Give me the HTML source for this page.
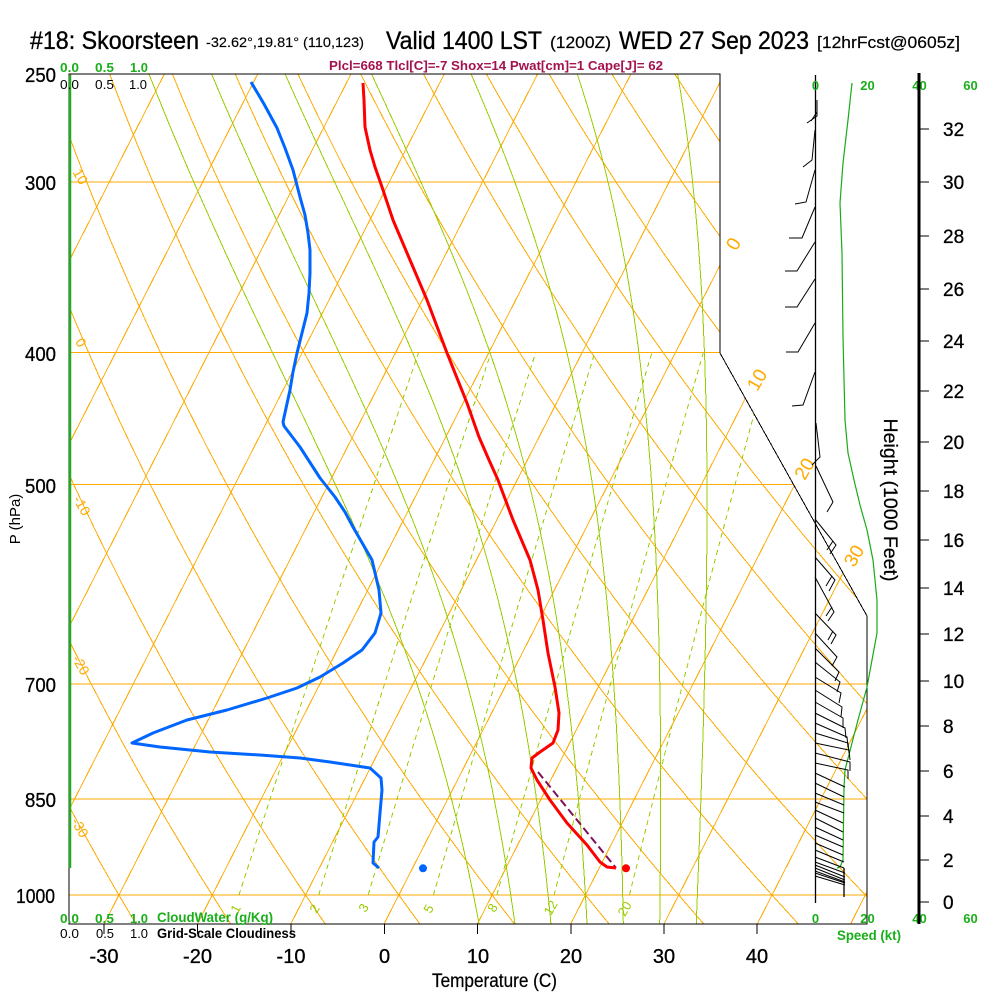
<!DOCTYPE html>
<html>
<head>
<meta charset="utf-8">
<style>
html,body{margin:0;padding:0;background:#fff;}
svg{display:block;}
text{font-family:"Liberation Sans",Arial,sans-serif;}
</style>
</head>
<body>
<svg id="s" width="1000" height="1000" viewBox="0 0 1000 1000" xmlns="http://www.w3.org/2000/svg">
<rect x="0" y="0" width="1000" height="1000" fill="#fff"/>
<defs>
<clipPath id="c"><polygon points="69,74 720,74 720,353 867,616 867,924 69,924"/></clipPath>
</defs>

<!-- grid -->
<g clip-path="url(#c)" shape-rendering="crispEdges">
  <g id="gOrange" fill="none" stroke="#ffaa00" stroke-width="1"></g>
  <g fill="none" stroke="#ffaa00" stroke-width="1">
    <line x1="69" y1="182" x2="870" y2="182"/>
    <line x1="69" y1="352.5" x2="870" y2="352.5"/>
    <line x1="69" y1="484.5" x2="870" y2="484.5"/>
    <line x1="69" y1="684" x2="870" y2="684"/>
    <line x1="69" y1="799" x2="870" y2="799"/>
    <line x1="69" y1="895" x2="870" y2="895"/>
  </g>
  <g id="gMoist" fill="none" stroke="#99cc00" stroke-width="1"></g>
  <g id="gMix" fill="none" stroke="#99cc00" stroke-width="1" stroke-dasharray="5,4"></g>
</g>

<!-- frame -->
<polygon points="69,74 720,74 720,353 867,616 867,924 69,924" fill="none" stroke="#000" stroke-width="1" shape-rendering="crispEdges"/>
<!-- cloud water axis green line -->
<line x1="70" y1="75" x2="70" y2="868" stroke="#22aa22" stroke-width="2.5"/>

<!-- bottom ticks -->
<g stroke="#000" stroke-width="1" shape-rendering="crispEdges">
  <line x1="104" y1="924" x2="104" y2="934"/>
  <line x1="197.5" y1="924" x2="197.5" y2="934"/>
  <line x1="291" y1="924" x2="291" y2="934"/>
  <line x1="384.5" y1="924" x2="384.5" y2="934"/>
  <line x1="477.5" y1="924" x2="477.5" y2="934"/>
  <line x1="571" y1="924" x2="571" y2="934"/>
  <line x1="664" y1="924" x2="664" y2="934"/>
  <line x1="757" y1="924" x2="757" y2="934"/>
</g>

<!-- title -->
<g fill="#000" stroke="#000" stroke-width="0.35">
<text x="30" y="49" font-size="25" textLength="169" lengthAdjust="spacingAndGlyphs">#18: Skoorsteen</text>
<text x="206" y="47" font-size="14" stroke-width="0.15" textLength="158" lengthAdjust="spacingAndGlyphs">-32.62°,19.81° (110,123)</text>
<text x="386" y="49" font-size="25" textLength="156" lengthAdjust="spacingAndGlyphs">Valid 1400 LST</text>
<text x="550" y="48" font-size="17" stroke-width="0.2" textLength="61" lengthAdjust="spacingAndGlyphs">(1200Z)</text>
<text x="619" y="49" font-size="25" textLength="190" lengthAdjust="spacingAndGlyphs">WED 27 Sep 2023</text>
<text x="817" y="48" font-size="17" stroke-width="0.2" textLength="143" lengthAdjust="spacingAndGlyphs">[12hrFcst@0605z]</text>
</g>

<!-- stats line -->
<text x="329" y="70" font-size="13" font-weight="bold" fill="#a3124f" textLength="334" lengthAdjust="spacingAndGlyphs">Plcl=668 Tlcl[C]=-7 Shox=14 Pwat[cm]=1 Cape[J]= 62</text>

<!-- top-left small labels -->
<g font-size="13" font-weight="bold" fill="#1aaf1a">
  <text x="60" y="72" textLength="19" lengthAdjust="spacingAndGlyphs">0.0</text>
  <text x="95" y="72" textLength="19" lengthAdjust="spacingAndGlyphs">0.5</text>
  <text x="130" y="72" textLength="18" lengthAdjust="spacingAndGlyphs">1.0</text>
</g>
<g font-size="13" fill="#000">
  <text x="60" y="89" textLength="19" lengthAdjust="spacingAndGlyphs">0.0</text>
  <text x="95" y="89" textLength="19" lengthAdjust="spacingAndGlyphs">0.5</text>
  <text x="129" y="89" textLength="18" lengthAdjust="spacingAndGlyphs">1.0</text>
</g>

<!-- bottom-left small labels -->
<g font-size="13" font-weight="bold" fill="#1aaf1a">
  <text x="60" y="923" textLength="19" lengthAdjust="spacingAndGlyphs">0.0</text>
  <text x="95" y="923" textLength="19" lengthAdjust="spacingAndGlyphs">0.5</text>
  <text x="130" y="923" textLength="18" lengthAdjust="spacingAndGlyphs">1.0</text>
  <text x="157" y="922" font-size="14" textLength="116" lengthAdjust="spacingAndGlyphs">CloudWater (g/Kg)</text>
</g>
<g font-size="13" fill="#000">
  <text x="60" y="938" textLength="19" lengthAdjust="spacingAndGlyphs">0.0</text>
  <text x="96" y="938" textLength="18" lengthAdjust="spacingAndGlyphs">0.5</text>
  <text x="130" y="938" textLength="18" lengthAdjust="spacingAndGlyphs">1.0</text>
  <text x="157" y="938" font-size="14" font-weight="bold" textLength="139" lengthAdjust="spacingAndGlyphs">Grid-Scale Cloudiness</text>
</g>

<!-- pressure labels -->
<g font-size="20" fill="#000" stroke="#000" stroke-width="0.3">
  <text x="25" y="82" textLength="31" lengthAdjust="spacingAndGlyphs">250</text>
  <text x="25" y="190" textLength="31" lengthAdjust="spacingAndGlyphs">300</text>
  <text x="25" y="361" textLength="31" lengthAdjust="spacingAndGlyphs">400</text>
  <text x="25" y="493" textLength="31" lengthAdjust="spacingAndGlyphs">500</text>
  <text x="25" y="692" textLength="31" lengthAdjust="spacingAndGlyphs">700</text>
  <text x="25" y="807" textLength="31" lengthAdjust="spacingAndGlyphs">850</text>
  <text x="16" y="903" textLength="39" lengthAdjust="spacingAndGlyphs">1000</text>
</g>
<text transform="translate(20,519) rotate(-90)" text-anchor="middle" font-size="15">P (hPa)</text>

<!-- temperature labels -->
<g font-size="20" fill="#000" text-anchor="middle" stroke="#000" stroke-width="0.3">
  <text x="104" y="963">-30</text>
  <text x="197.5" y="963">-20</text>
  <text x="291" y="963">-10</text>
  <text x="384.5" y="963">0</text>
  <text x="478" y="963">10</text>
  <text x="571" y="963">20</text>
  <text x="664" y="963">30</text>
  <text x="757" y="963">40</text>
</g>
<text x="432" y="987" font-size="19" stroke="#000" stroke-width="0.25" textLength="125" lengthAdjust="spacingAndGlyphs">Temperature (C)</text>

<!-- dry adiabat labels (left) -->
<g font-size="14" fill="#ffaa00" text-anchor="middle">
  <text transform="translate(80.5,176.5) rotate(60)" dy="5">10</text>
  <text transform="translate(81,342.5) rotate(60)" dy="5">0</text>
  <text transform="translate(82,505.5) rotate(60)" dy="5">-10</text>
  <text transform="translate(81,665) rotate(60)" dy="5">-20</text>
  <text transform="translate(80,827.5) rotate(60)" dy="5">-30</text>
</g>
<!-- isotherm labels (right) -->
<g font-size="19" fill="#ffaa00" text-anchor="middle">
  <text transform="translate(733,243.5) rotate(-60)" dy="7">0</text>
  <text transform="translate(756.5,379.5) rotate(-60)" dy="7">10</text>
  <text transform="translate(804,468.5) rotate(-60)" dy="7">20</text>
  <text transform="translate(853.5,555.5) rotate(-60)" dy="7">30</text>
</g>
<!-- mixing ratio labels -->
<g font-size="13" fill="#99cc00" text-anchor="middle">
  <text transform="translate(236,909) rotate(-60)" dy="4">1</text>
  <text transform="translate(315,909) rotate(-60)" dy="4">2</text>
  <text transform="translate(364,908) rotate(-60)" dy="4">3</text>
  <text transform="translate(429,909) rotate(-60)" dy="4">5</text>
  <text transform="translate(493,908) rotate(-60)" dy="4">8</text>
  <text transform="translate(551,908) rotate(-60)" dy="4">12</text>
  <text transform="translate(625,909) rotate(-60)" dy="4">20</text>
</g>

<!-- parcel dashed line -->
<line x1="538" y1="772" x2="616" y2="868" stroke="#80105a" stroke-width="2" stroke-dasharray="8,4"/>

<!-- temperature profile -->
<polyline fill="none" stroke="#ff0000" stroke-width="3" stroke-linejoin="round" points="363,83 364,100 365,127 370,150 375,167 382,187 393,220 410,260 427,300 447,353 467,403 479,437 489,460 498,480 513,520 530,560 538,590 543,620 548,653 555,687 559,713 558,730 553,743 540,752 532,758 531,768 537,780 550,800 567,823 587,845 600,862 607,867 616,868"/>
<circle cx="626" cy="868.3" r="4" fill="#ff0000"/>

<!-- dewpoint profile -->
<polyline fill="none" stroke="#0066ff" stroke-width="3" stroke-linejoin="round" points="251,82 264,104 277,128 285,148 293,170 300,197 305,215 308,233 310,250 310,273 309,293 307,313 302,333 297,353 293,372 290,390 283,422 284,426 300,447 320,478 335,497 345,512 353,527 372,560 379,590 381,613 375,633 362,650 343,663 320,677 297,688 267,698 227,710 187,720 153,733 132,743 160,747 210,752 260,755 300,758 330,762 370,768 381,778 382,790 380,813 378,837 374,842 373,863 379,868"/>
<circle cx="423" cy="868.3" r="4" fill="#0066ff"/>

<!-- wind section -->
<line x1="815.5" y1="75" x2="815.5" y2="903" stroke="#000" stroke-width="1.3"/>
<line x1="844" y1="868" x2="844" y2="897" stroke="#000" stroke-width="1.3"/>
<polyline fill="none" stroke="#1aaa1a" stroke-width="1.2" points="852,83 848,120 843,163 840,203 842,253 843,337 845,420 848,453 854,480 860,505 867,530 873,560 877,600 877,633 872,660 867,687 858,720 852,743 845,770 844,787 843,860 840,867 837,868"/>
<g fill="none" stroke="#000" stroke-width="1">
  <polyline points="817,100 817,116 807,123"/>
  <line x1="811" y1="121" x2="817" y2="112"/>
  <polyline points="815,130 812,160 803,167"/>
  <polyline points="815,170 806,202 795,204"/>
  <polyline points="815,207 802,238 789,238"/>
  <polyline points="815,242 797,271 785,271"/>
  <polyline points="815,279 797,307 785,307"/>
  <polyline points="815,323 798,352 786,352"/>
  <polyline points="815,372 803,405 792,406"/>
  <polyline points="816,423 820,457 812,465"/>
  <polyline points="816,466 833,502 827,512"/>
  <!-- lower barbs -->
  <polyline points="815,519 836,545 830,554"/><line x1="833" y1="541" x2="827" y2="550"/>
  <polyline points="815,557 835,580 829,591"/><line x1="832" y1="576" x2="826" y2="586"/>
  <polyline points="815,577 834,612 828,621"/><line x1="832" y1="607" x2="826" y2="616"/>
  <polyline points="815,613 836,635 831,644"/><line x1="833" y1="631" x2="828" y2="640"/>
  <polyline points="815,633 837,657 832,666"/>
  <polyline points="815,648 839,672 835,681"/>
  <polyline points="815,662 840,682 837,692"/>
  <polyline points="815,677 841,693 839,703"/>
  <polyline points="815,690 842,707 841,717"/>
  <polyline points="815,702 843,718 843,728"/>
  <polyline points="815,713 845,728 846,738"/>
  <polyline points="815,723 847,737 848,747"/>
  <polyline points="815,733 848,743 849,753"/>
  <polyline points="815,743 849,750 850,760"/>
  <polyline points="815,753 850,762 850,771"/>
  <polyline points="815,763 848,770 848,779"/>
  <line x1="815" y1="773" x2="845" y2="787"/>
  <line x1="815" y1="783" x2="844" y2="797"/>
  <line x1="815" y1="793" x2="844" y2="805"/>
  <line x1="815" y1="802" x2="844" y2="813"/>
  <line x1="815" y1="810" x2="843" y2="823"/>
  <line x1="815" y1="818" x2="843" y2="832"/>
  <line x1="815" y1="827" x2="843" y2="840"/>
  <line x1="815" y1="835" x2="843" y2="847"/>
  <line x1="815" y1="843" x2="843" y2="855"/>
  <line x1="815" y1="850" x2="844" y2="862"/>
  <line x1="815" y1="857" x2="844" y2="868"/>
  <line x1="815" y1="862" x2="845" y2="873"/>
  <line x1="815" y1="865" x2="845" y2="877"/>
  <line x1="815" y1="868" x2="845" y2="880"/>
  <line x1="815" y1="871" x2="845" y2="882"/>
  <line x1="815" y1="873" x2="845" y2="883"/>
  <line x1="815" y1="876" x2="845" y2="885"/>
</g>

<!-- speed labels -->
<g font-size="13" font-weight="bold" fill="#1aaf1a" text-anchor="middle">
  <text x="815.5" y="90">0</text>
  <text x="867.5" y="90">20</text>
  <text x="919.5" y="90">40</text>
  <text x="970.5" y="90">60</text>
  <text x="815.5" y="923">0</text>
  <text x="867.5" y="923">20</text>
  <text x="919.5" y="923">40</text>
  <text x="970.5" y="923">60</text>
</g>
<text x="837" y="940" font-size="14" font-weight="bold" fill="#1aaf1a" textLength="64" lengthAdjust="spacingAndGlyphs">Speed (kt)</text>

<!-- height axis -->
<line x1="919" y1="73" x2="919" y2="924" stroke="#000" stroke-width="3"/>
<g stroke="#000" stroke-width="1" shape-rendering="crispEdges">
  <line x1="919" y1="129" x2="929" y2="129"/>
  <line x1="919" y1="182" x2="929" y2="182"/>
  <line x1="919" y1="236" x2="929" y2="236"/>
  <line x1="919" y1="289" x2="929" y2="289"/>
  <line x1="919" y1="341" x2="929" y2="341"/>
  <line x1="919" y1="391" x2="929" y2="391"/>
  <line x1="919" y1="442" x2="929" y2="442"/>
  <line x1="919" y1="491" x2="929" y2="491"/>
  <line x1="919" y1="540" x2="929" y2="540"/>
  <line x1="919" y1="588" x2="929" y2="588"/>
  <line x1="919" y1="634" x2="929" y2="634"/>
  <line x1="919" y1="681" x2="929" y2="681"/>
  <line x1="919" y1="726" x2="929" y2="726"/>
  <line x1="919" y1="771" x2="929" y2="771"/>
  <line x1="919" y1="816" x2="929" y2="816"/>
  <line x1="919" y1="860" x2="929" y2="860"/>
  <line x1="919" y1="902" x2="929" y2="902"/>
</g>
<g font-size="19" fill="#000" stroke="#000" stroke-width="0.3">
  <text x="943" y="136">32</text>
  <text x="943" y="189">30</text>
  <text x="943" y="243">28</text>
  <text x="943" y="296">26</text>
  <text x="943" y="348">24</text>
  <text x="943" y="398">22</text>
  <text x="943" y="449">20</text>
  <text x="943" y="498">18</text>
  <text x="943" y="547">16</text>
  <text x="943" y="595">14</text>
  <text x="943" y="641">12</text>
  <text x="943" y="688">10</text>
  <text x="943" y="733">8</text>
  <text x="943" y="778">6</text>
  <text x="943" y="823">4</text>
  <text x="943" y="867">2</text>
  <text x="943" y="909">0</text>
</g>
<text transform="translate(884,500) rotate(90)" text-anchor="middle" font-size="19" stroke="#000" stroke-width="0.25" textLength="163" lengthAdjust="spacingAndGlyphs">Height (1000 Feet)</text>
</svg>

<script>
(function(){
var NS="http://www.w3.org/2000/svg";
function X(T,p){return 398.8+9.33*T+302*Math.log(1000/p);}
function Y(p){return 895-592.2*Math.log(1000/p);}
function pl(pts,g){
  var e=document.createElementNS(NS,'polyline');
  e.setAttribute('points',pts.map(function(q){return q[0].toFixed(1)+','+q[1].toFixed(1);}).join(' '));
  g.appendChild(e);
}
var go=document.getElementById('gOrange');
var T,p,th,pts;
for(T=-130;T<=60;T+=10){pl([[X(T,1070),Y(1070)],[X(T,240),Y(240)]],go);}
for(th=-50;th<=220;th+=10){
  pts=[];
  for(p=1070;p>=240;p-=10){var t=(th+273.15)*Math.pow(p/1000,0.2857)-273.15;pts.push([X(t,p),Y(p)]);}
  pl(pts,go);
}
function es(Tc){return 6.112*Math.exp(17.67*Tc/(Tc+243.5));}
function dTdp(TK,pp){
  var e=es(TK-273.15);var w=0.622*e/(pp-e);
  var Rd=287.04,cp=1005.7,L=2.501e6;
  return (Rd*TK+L*w)/(pp*(cp+L*L*w*0.622/(Rd*TK*TK)));
}
var gm=document.getElementById('gMoist');
for(var tw=8;tw<=32;tw+=4){
  var up=[],dn=[],TK=tw+273.15,k1,k2,dp=2;
  for(p=1000;p>=240;p-=dp){
    up.push([X(TK-273.15,p),Y(p)]);
    k1=dTdp(TK,p);k2=dTdp(TK-dp*k1,p-dp);TK-=dp*(k1+k2)/2;
  }
  TK=tw+273.15;
  for(p=1000;p<=1070;p+=dp){
    dn.push([X(TK-273.15,p),Y(p)]);
    k1=dTdp(TK,p);k2=dTdp(TK+dp*k1,p+dp);TK+=dp*(k1+k2)/2;
  }
  pl(dn.reverse().concat(up),gm);
}
var gx=document.getElementById('gMix');
[1,2,3,5,8,12,20].forEach(function(w){
  var pts=[];
  for(var pp=1000;pp>=400;pp-=10){
    var e=w*pp/(622+w);var l=Math.log(e/6.112);var t=243.5*l/(17.67-l);
    pts.push([X(t,pp),Y(pp)]);
  }
  pl(pts,gx);
});
})();
</script>
</body>
</html>
